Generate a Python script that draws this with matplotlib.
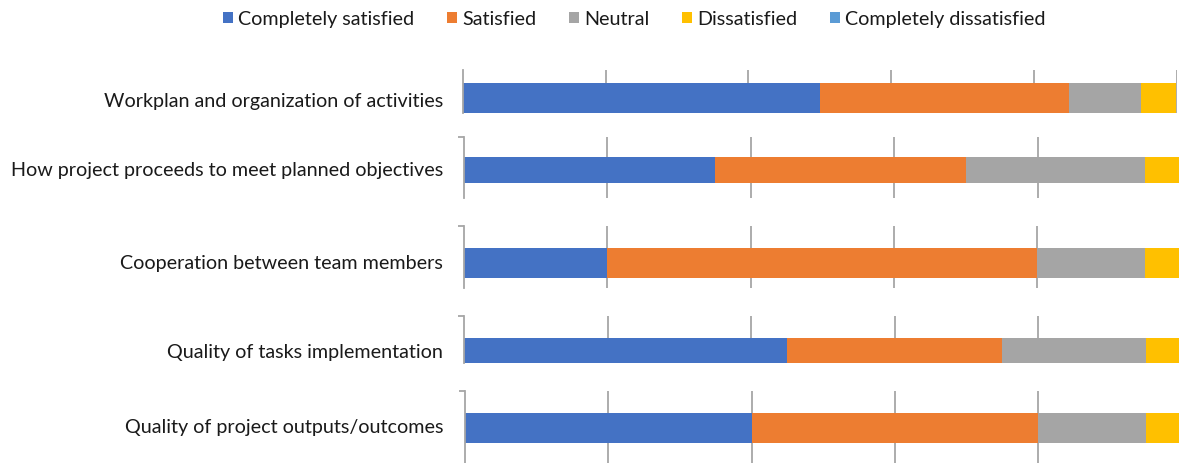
import numpy as np
import matplotlib.pyplot as plt

plt.rcParams['font.family'] = ['Lato', 'DejaVu Sans']

# survey answers, share of respondents (%)
categories = [
    "Workplan and organization of activities",
    "How project proceeds to meet planned objectives",
    "Cooperation between team members",
    "Quality of tasks implementation",
    "Quality of project outputs/outcomes",
]
completely_satisfied = [50, 35, 20, 45, 40]
satisfied = [35, 35, 60, 30, 40]
neutral = [10, 25, 15, 20, 15]
dissatisfied = [5, 5, 5, 5, 5]
completely_dissatisfied = [0, 0, 0, 0, 0]

series_names = ["Completely satisfied", "Satisfied", "Neutral",
                "Dissatisfied", "Completely dissatisfied"]
colors = ["#4472C4", "#ED7D31", "#A5A5A5", "#FFC000", "#5B9BD5"]
grid_color = "#A6A6A6"

W, H = 1179, 463
fig = plt.figure(figsize=(W / 100, H / 100), dpi=100)

# each row is its own little chart:
# (top, bottom, bar top, bar bottom, left, px per 20%, bracket, label shift)
rows = [
    (70, 113, 83, 113, 463.0, 142.7, False, -4),
    (137, 198, 157, 183, 463.5, 143.5, True, 0),
    (226, 288, 248, 278, 464.0, 143.3, True, 0),
    (316, 363, 338, 363, 464.0, 143.5, True, -2),
    (391, 463, 413, 443, 465.0, 143.3, True, 0),
]

data = np.array([completely_satisfied, satisfied, neutral,
                 dissatisfied, completely_dissatisfied], dtype=float)

handles = []
for i, (top, bot, bt, bb, left, step, bracket, shift) in enumerate(rows):
    width = 5 * step
    ax = fig.add_axes([left / W, 1 - bot / H, width / W, (bot - top) / H])
    bh = bb - bt
    ax.set_ylim(-0.5 - (bot - bb) / bh, 0.5 + (bt - top) / bh)
    ax.set_xlim(0, 100)

    for x in [20, 40, 60, 80, 100]:
        ax.axvline(x, color=grid_color, lw=1.3, zorder=0)

    cum = 0
    for k in range(len(series_names)):
        b = ax.barh(0, data[k, i], left=cum, height=1.0, color=colors[k],
                    zorder=2, label=series_names[k])
        cum += data[k, i]
        if i == 0:
            handles.append(b)

    for s in ["top", "right", "bottom"]:
        ax.spines[s].set_visible(False)
    ax.spines["left"].set_color(grid_color)
    ax.spines["left"].set_linewidth(1.3)
    ax.set_xticks([])
    if bracket:
        ax.set_yticks([ax.get_ylim()[1]])
        ax.tick_params(axis="y", length=4.5, width=1.3, color=grid_color,
                       labelleft=False, direction="out")
    else:
        ax.set_yticks([])

    ax.annotate(categories[i], xy=(0, 0), xycoords=ax.get_yaxis_transform(),
                xytext=(-(left - 443), shift), textcoords="offset pixels",
                ha="right", va="center", fontsize=14.2, color="#1a1a1a")

fig.legend(handles=handles, labels=series_names, loc="upper center",
           bbox_to_anchor=(0.538, 1.015), ncol=5, frameon=False,
           handlelength=0.5, handleheight=0.5, handletextpad=0.28,
           columnspacing=1.65, fontsize=14.2, labelcolor="#1a1a1a")

fig.savefig("out.png", dpi=100)
